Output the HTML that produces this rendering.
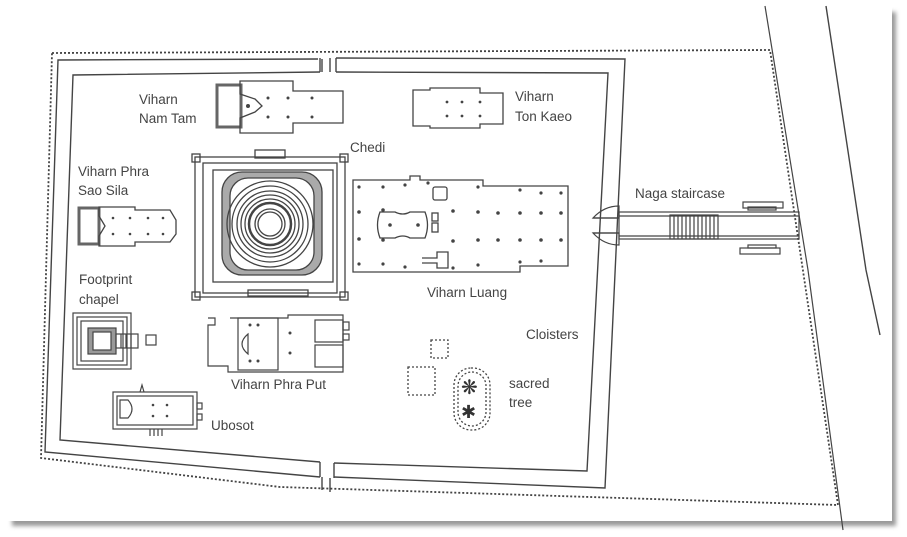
<!DOCTYPE html>
<html><head><meta charset="utf-8"><style>
html,body{margin:0;padding:0;background:#fff;}
svg{display:block}
text{font-family:"Liberation Sans",Arial,sans-serif;font-size:13.5px;fill:#444;}
</style></head><body>
<svg width="907" height="537" viewBox="0 0 907 537" xmlns="http://www.w3.org/2000/svg">
<defs>
<filter id="sh"><feGaussianBlur stdDeviation="2"/></filter>
</defs>
<rect x="12" y="12" width="884" height="514" fill="#999" filter="url(#sh)"/>
<rect x="6" y="4" width="886" height="517" fill="#fff"/>

<g fill="none" stroke="#444" stroke-width="1.4">
<path d="M765 6 L808 270 L843 530" stroke-width="1.2"/>
<path d="M826 6 L866 270 L880 335"/>
<path d="M52 53 L770 50 L838 505 L280 487 L41 458 Z" stroke-dasharray="2 2" stroke-width="1.8"/>
<path d="M318 59 L58 60 L45 452 L320 477"/>
<path d="M334 477 L605 488 L625 59 L336 58"/>
<path d="M322 59 L322 72 M330 58 L330 72" />
<path d="M322 477 L322 490 M330 478 L330 492"/>
<path d="M320 72 L73 75 L60 440 L320 462"/>
<path d="M334 463 L587 471 L608 73 L336 72"/>
<path d="M320 72 L320 58 M336 72 L336 58"/>
<path d="M320 462 L320 477 M334 463 L334 478"/>
</g>

<g fill="none" stroke="#444" stroke-width="1.2">
<path d="M593 218 Q604 206 619 206 L619 218 Z"/>
<path d="M593 233 Q604 245 619 245 L619 233 Z"/>
<path d="M593 218 L619 218 M593 233 L619 233"/>
<rect x="619" y="212" width="180" height="27"/>
<line x1="619" y1="216" x2="799" y2="216"/>
<line x1="619" y1="236" x2="799" y2="236"/>
<rect x="670" y="215" width="48" height="24"/>
<path d="M674 215v24M678 215v24M682 215v24M686 215v24M690 215v24M694 215v24M698 215v24M702 215v24M706 215v24M710 215v24M714 215v24"/>
<rect x="743" y="202" width="40" height="6"/><rect x="748" y="207" width="28" height="3"/>
<rect x="740" y="248" width="40" height="6"/><rect x="748" y="245" width="28" height="3"/>
</g>

<g fill="none" stroke="#444" stroke-width="1.3">
<rect x="217" y="85" width="24" height="42" stroke-width="3" stroke="#666"/>
<path d="M240 81 L293 81 L293 91 L343 91 L343 123 L293 123 L293 133 L240 133 L240 118 L255 112 L262 106 L255 99 L240 94 Z"/>
<g fill="#444" stroke="none">
<circle cx="268" cy="98" r="1.5"/><circle cx="288" cy="98" r="1.5"/><circle cx="312" cy="98" r="1.5"/>
<circle cx="268" cy="117" r="1.5"/><circle cx="288" cy="117" r="1.5"/><circle cx="312" cy="117" r="1.5"/>
<circle cx="248" cy="106" r="2"/>
</g>
</g>

<g fill="none" stroke="#444" stroke-width="1.3">
<path d="M413 90 L430 90 L430 88 L480 88 L480 93 L503 93 L503 124 L480 124 L480 128 L430 128 L430 126 L413 126 Z"/>
<g fill="#444" stroke="none">
<circle cx="447" cy="102" r="1.4"/><circle cx="462" cy="102" r="1.4"/><circle cx="480" cy="102" r="1.4"/>
<circle cx="447" cy="116" r="1.4"/><circle cx="462" cy="116" r="1.4"/><circle cx="480" cy="116" r="1.4"/>
</g>
</g>

<g fill="none" stroke="#444" stroke-width="1.3">
<rect x="195" y="157" width="150" height="140"/>
<rect x="203" y="163" width="134" height="130"/>
<rect x="192" y="154" width="8" height="8"/><rect x="340" y="154" width="8" height="8"/>
<rect x="192" y="292" width="8" height="8"/><rect x="340" y="292" width="8" height="8"/>
<rect x="255" y="150" width="30" height="8"/>
<rect x="213" y="170" width="120" height="112"/>
<rect x="222" y="172" width="100" height="103" rx="20" fill="#aaa" stroke="#444"/>
<rect x="230" y="178" width="84" height="92" rx="18" fill="#fff"/>
<circle cx="270" cy="224" r="43"/><circle cx="270" cy="224" r="38"/><circle cx="270" cy="224" r="33"/><circle cx="270" cy="224" r="29"/>
<circle cx="270" cy="224" r="25"/><circle cx="270" cy="224" r="21" stroke-width="2.5"/>
<circle cx="270" cy="224" r="15"/><circle cx="270" cy="224" r="12"/>
<rect x="248" y="290" width="60" height="6"/>
</g>

<g fill="none" stroke="#444" stroke-width="1.3">
<rect x="79" y="208" width="20" height="36" stroke-width="3" stroke="#666"/>
<path d="M99 207 L135 207 L135 210 L170 210 L176 220 L176 234 L170 242 L135 242 L135 246 L99 246 L99 236 L105 226 L99 216 Z"/>
<g fill="#444" stroke="none">
<circle cx="113" cy="218" r="1.3"/><circle cx="130" cy="218" r="1.3"/><circle cx="148" cy="218" r="1.3"/><circle cx="163" cy="218" r="1.3"/>
<circle cx="113" cy="234" r="1.3"/><circle cx="130" cy="234" r="1.3"/><circle cx="148" cy="234" r="1.3"/><circle cx="163" cy="234" r="1.3"/>
</g>
</g>

<g fill="none" stroke="#444" stroke-width="1.3">
<path d="M353 180 L410 180 L410 176 L420 176 L420 180 L483 180 L483 186 L568 186 L568 266 L520 266 L520 272 L353 272 Z"/>
<rect x="433" y="187" width="14" height="13" rx="2"/>
<path d="M380 212 L395 212 Q403 216 410 212 L425 212 Q430 225 425 238 L410 238 Q403 234 395 238 L380 238 Q375 225 380 212 Z"/>
<rect x="432" y="213" width="6" height="8"/><rect x="432" y="223" width="6" height="9"/>
<path d="M422 258 L437 258 L437 252 L448 252 L448 268 L437 268 L437 263 L422 263"/>
<g fill="#444" stroke="none">
<circle cx="359" cy="187" r="1.6"/><circle cx="383" cy="187" r="1.6"/><circle cx="405" cy="185" r="1.6"/><circle cx="428" cy="183" r="1.6"/><circle cx="478" cy="187" r="1.6"/><circle cx="520" cy="190" r="1.6"/><circle cx="541" cy="193" r="1.6"/><circle cx="561" cy="193" r="1.6"/>
<circle cx="359" cy="212" r="1.8"/><circle cx="383" cy="210" r="1.8"/><circle cx="453" cy="211" r="1.8"/><circle cx="478" cy="212" r="1.8"/><circle cx="498" cy="213" r="1.8"/><circle cx="520" cy="213" r="1.8"/><circle cx="541" cy="213" r="1.8"/><circle cx="561" cy="213" r="1.8"/>
<circle cx="390" cy="225" r="1.8"/><circle cx="418" cy="225" r="1.8"/>
<circle cx="359" cy="239" r="1.8"/><circle cx="383" cy="240" r="1.8"/><circle cx="453" cy="241" r="1.8"/><circle cx="478" cy="240" r="1.8"/><circle cx="498" cy="240" r="1.8"/><circle cx="520" cy="240" r="1.8"/><circle cx="541" cy="240" r="1.8"/><circle cx="561" cy="240" r="1.8"/>
<circle cx="359" cy="264" r="1.6"/><circle cx="383" cy="264" r="1.6"/><circle cx="405" cy="267" r="1.6"/><circle cx="453" cy="268" r="1.6"/><circle cx="478" cy="265" r="1.6"/><circle cx="520" cy="262" r="1.6"/><circle cx="541" cy="261" r="1.6"/>
</g>
</g>

<g fill="none" stroke="#444" stroke-width="1.2">
<rect x="73" y="313" width="58" height="56"/><rect x="77" y="317" width="50" height="48"/><rect x="81" y="321" width="42" height="40"/>
<rect x="88" y="328" width="28" height="26" fill="#999"/><rect x="93" y="332" width="18" height="18" fill="#fff"/>
<rect x="116" y="334" width="22" height="14"/><path d="M121 334v14M126 334v14M131 334v14"/>
<rect x="146" y="335" width="10" height="10"/>
</g>

<g fill="none" stroke="#444" stroke-width="1.2">
<path d="M208 318 L215 318 L215 325 L208 325 L208 366 L228 366 L228 372 L343 372 L343 315 L288 315 L288 318 L230 318"/>
<rect x="238" y="318" width="40" height="52"/>
<path d="M248 334 Q236 344 248 354 Z"/>
<rect x="315" y="320" width="28" height="22"/><rect x="315" y="345" width="28" height="22"/>
<rect x="343" y="322" width="6" height="8"/><rect x="343" y="334" width="6" height="6"/>
<g fill="#444" stroke="none">
<circle cx="250" cy="325" r="1.5"/><circle cx="258" cy="325" r="1.5"/><circle cx="250" cy="361" r="1.5"/><circle cx="258" cy="361" r="1.5"/>
<circle cx="290" cy="333" r="1.5"/><circle cx="290" cy="353" r="1.5"/>
</g>
</g>

<g fill="none" stroke="#444" stroke-width="1.2">
<rect x="113" y="392" width="84" height="37"/><rect x="117" y="396" width="76" height="29"/>
<path d="M140 392 L142 385 L144 392"/>
<path d="M120 400 L128 400 Q136 409 128 418 L120 418 Z"/>
<rect x="197" y="403" width="5" height="6"/><rect x="197" y="414" width="5" height="6"/>
<path d="M150 429v7M154 429v7M158 429v7M162 429v7"/>
<g fill="#444" stroke="none">
<circle cx="153" cy="405" r="1.3"/><circle cx="167" cy="405" r="1.3"/><circle cx="153" cy="416" r="1.3"/><circle cx="167" cy="416" r="1.3"/>
</g>
</g>

<g fill="none" stroke="#444" stroke-width="1.3" stroke-dasharray="2 2">
<rect x="431" y="340" width="17" height="18"/>
<rect x="408" y="367" width="27" height="28"/>
<rect x="454" y="368" width="36" height="62" rx="17"/>
<rect x="458" y="372" width="28" height="54" rx="14"/>
</g>
<text x="461" y="394" style="font-size:20px;fill:#333">❋</text>
<text x="461" y="418" style="font-size:18px;fill:#333">✱</text>

<text x="139" y="104">Viharn</text><text x="139" y="123">Nam Tam</text>
<text x="515" y="101">Viharn</text><text x="515" y="121">Ton Kaeo</text>
<text x="350" y="152">Chedi</text>
<text x="78" y="176">Viharn Phra</text><text x="78" y="195">Sao Sila</text>
<text x="635" y="198">Naga staircase</text>
<text x="427" y="297">Viharn Luang</text>
<text x="79" y="284">Footprint</text><text x="79" y="304">chapel</text>
<text x="526" y="339">Cloisters</text>
<text x="231" y="389">Viharn Phra Put</text>
<text x="509" y="388">sacred</text><text x="509" y="407">tree</text>
<text x="211" y="430">Ubosot</text>
</svg>
</body></html>
